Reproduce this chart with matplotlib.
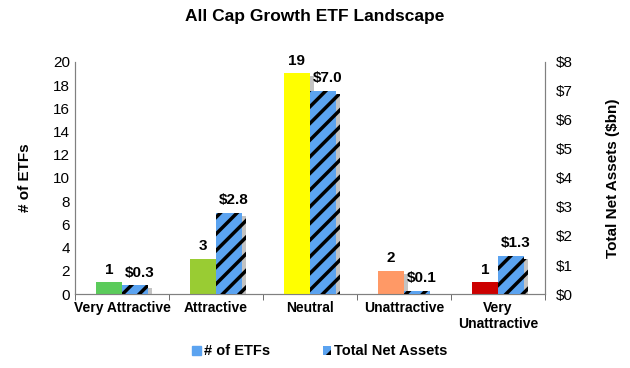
import matplotlib.pyplot as plt
import matplotlib.patheffects as pe
import numpy as np

plt.rcParams['font.family'] = ['Liberation Sans', 'DejaVu Sans']
plt.rcParams['hatch.linewidth'] = 2.5

# Data
categories = ['Very Attractive', 'Attractive', 'Neutral', 'Unattractive', 'Very\nUnattractive']
num_etfs = [1, 3, 19, 2, 1]
net_assets = [0.3, 2.8, 7.0, 0.1, 1.3]
etf_colors = ['#5BCB5B', '#99CC33', '#FFFF00', '#FF9966', '#CC0000']

fig = plt.figure(figsize=(6.3, 3.68), dpi=100)
ax = fig.add_axes([0.119, 0.201, 0.746, 0.631])
ax2 = ax.twinx()

x = np.arange(len(categories))
w = 0.28
shadow = [pe.SimplePatchShadow(offset=(3, -2), shadow_rgbFace='#888888', alpha=0.5), pe.Normal()]

b1 = ax.bar(x - w / 2, num_etfs, w, color=etf_colors, linewidth=0, zorder=3)
b2 = ax2.bar(x + w / 2, net_assets, w, color='#5BA3F0', edgecolor='black',
             hatch='//', linewidth=0, zorder=3)
for b in list(b1) + list(b2):
    b.set_path_effects(shadow)

# value labels
for xi, v in zip(x, num_etfs):
    ax.text(xi - w / 2, v + 0.5, str(v), ha='center', va='bottom',
            fontsize=11, fontweight='bold')
for xi, v in zip(x, net_assets):
    ax2.text(xi + w / 2 + 0.05, v + 0.2, '$%.1f' % v, ha='center', va='bottom',
             fontsize=11, fontweight='bold')

ax.set_xlim(-0.5, 4.5)
ax.set_ylim(0, 20)
ax.set_yticks(range(0, 21, 2))
ax2.set_ylim(0, 8)
ax2.set_yticks(range(0, 9))
ax2.set_yticklabels(['$%d' % v for v in range(9)])

ax.set_xticks(x)
ax.set_xticklabels(categories, fontweight='bold', fontsize=10)
ax.set_xticks(np.arange(-0.5, 5, 1), minor=True)
ax.tick_params(axis='x', which='major', length=0, pad=5)
ax.tick_params(axis='x', which='minor', length=4, color='#555555')
ax.tick_params(axis='y', length=0, labelsize=11)
ax2.tick_params(axis='y', length=0, labelsize=11, pad=8)

for a in (ax, ax2):
    a.spines['top'].set_visible(False)
    for s in ('left', 'right', 'bottom'):
        a.spines[s].set_color('#808080')

ax.set_ylabel('# of ETFs', fontweight='bold', fontsize=11, labelpad=15)
ax2.set_ylabel('Total Net Assets ($bn)', fontweight='bold', fontsize=11, labelpad=24)

fig.suptitle('All Cap Growth ETF Landscape', fontweight='bold', fontsize=12.5, y=0.975)

h1 = plt.Rectangle((0, 0), 1, 1, color='#5BA3F0')
h2 = plt.Rectangle((0, 0), 1, 1, facecolor='#5BA3F0', edgecolor='black', hatch='//', linewidth=0)
fig.legend([h1, h2], ['# of ETFs', 'Total Net Assets'], loc='center', ncol=2,
           bbox_to_anchor=(0.508, 0.045), frameon=False, handlelength=0.6,
           handleheight=0.6, handletextpad=0.2, columnspacing=3.6,
           prop={'weight': 'bold', 'size': 10.5})

fig.savefig('out.png', dpi=100)
